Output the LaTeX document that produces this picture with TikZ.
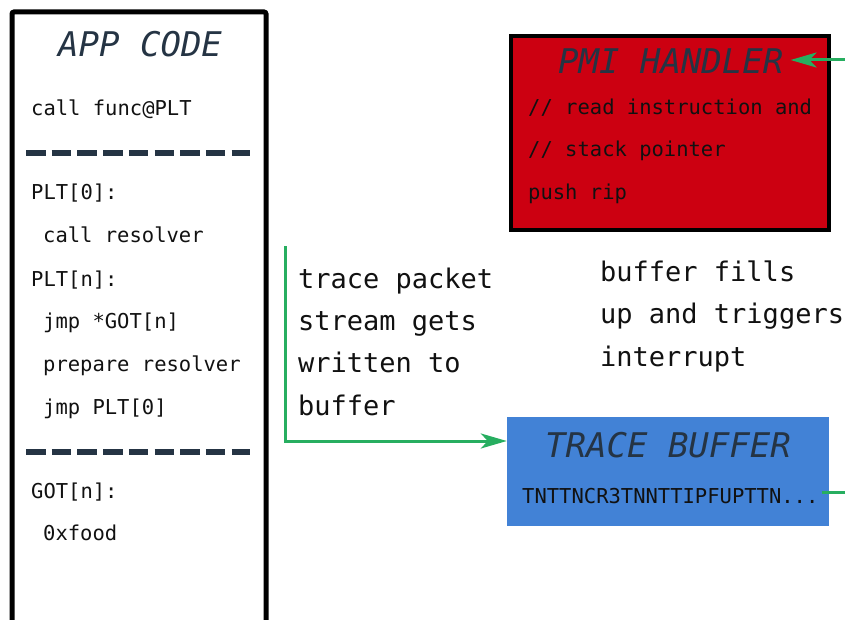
\documentclass[tikz,border=0pt]{standalone}
\usepackage{fontspec}
\setmonofont{DejaVu Sans Mono}
\usetikzlibrary{arrows.meta}
\definecolor{slate}{HTML}{253444}
\definecolor{pmired}{HTML}{CC0011}
\definecolor{bufblue}{HTML}{4282D6}
\definecolor{flowgreen}{HTML}{27AE60}
\definecolor{ink}{HTML}{111111}
\tikzset{
  code/.style={anchor=base west, inner sep=0pt, text=ink, font=\ttfamily\fontsize{20.5}{24}\selectfont},
  note/.style={anchor=base west, inner sep=0pt, text=ink, font=\ttfamily\fontsize{27}{32}\selectfont},
  boxtitle/.style={anchor=base west, inner sep=0pt, text=slate, font=\ttfamily\itshape\fontsize{34}{40}\selectfont},
  sepline/.style={draw=slate, line width=6pt, dash pattern=on 19.5pt off 6.2pt},
  flowline/.style={draw=flowgreen, line width=3pt},
  flow/.style={flowline, -{Stealth[length=26pt, width=15pt, inset=7pt]}},
}
\begin{document}
\begin{tikzpicture}[x=1pt, y=-1pt]
\useasboundingbox (0,0) rectangle (845,620);
\clip (0,0) rectangle (845,620);

% application code column
\node[draw=black, line width=5pt, rounded corners=2pt, minimum width=254pt, minimum height=628pt, inner sep=0pt] (app) at (139,326) {};
\node[boxtitle] (apptitle) at (58,57) {APP CODE};
\node[code] (c1) at (31,116) {call func@PLT};
\draw[sepline] (26,153) -- (250,153);
\node[code] (c2) at (31,200) {PLT[0]:};
\node[code] (c3) at (43,243) {call resolver};
\node[code] (c4) at (31,286) {PLT[n]:};
\node[code] (c5) at (43,328) {jmp *GOT[n]};
\node[code] (c6) at (43,371) {prepare resolver};
\node[code] (c7) at (43,414) {jmp PLT[0]};
\draw[sepline] (26,452) -- (250,452);
\node[code] (c8) at (31,498) {GOT[n]:};
\node[code] (c9) at (43,540) {0xfood};

% PMI handler
\node[draw=black, fill=pmired, line width=4pt, minimum width=318pt, minimum height=194pt, inner sep=0pt] (pmi) at (670,133) {};
\node[boxtitle] (pmititle) at (558,74) {PMI HANDLER};
\node[code] (p1) at (528,115) {// read instruction and};
\node[code] (p2) at (528,157) {// stack pointer};
\node[code] (p3) at (528,200) {push rip};

% trace buffer
\node[fill=bufblue, minimum width=322pt, minimum height=109pt, inner sep=0pt] (trace) at (668,471.5) {};
\node[boxtitle] (tracetitle) at (545,457) {TRACE BUFFER};
\node[code] (tnt) at (522,503) {TNTTNCR3TNNTTIPFUPTTN...};

% annotations
\node[note] (n1) at (298,288) {trace packet};
\node[note] (n2) at (298,330) {stream gets};
\node[note] (n3) at (298,372.5) {written to};
\node[note] (n4) at (298,415) {buffer};
\node[note] (m1) at (600,281) {buffer fills};
\node[note] (m2) at (600,323.5) {up and triggers};
\node[note] (m3) at (600,366) {interrupt};

% connectors
\coordinate (tstart) at (285,246);
\draw[flow] (tstart) |- ([yshift=30.5pt]trace.west);
\coordinate (pin) at (846,60);
\draw[flow] (pin) -- ([xshift=7pt]pmititle.east |- pin);
\coordinate (tout) at (846,492);
\draw[flowline] ([xshift=3pt]tnt.east |- tout) -- (tout);
\end{tikzpicture}
\end{document}
